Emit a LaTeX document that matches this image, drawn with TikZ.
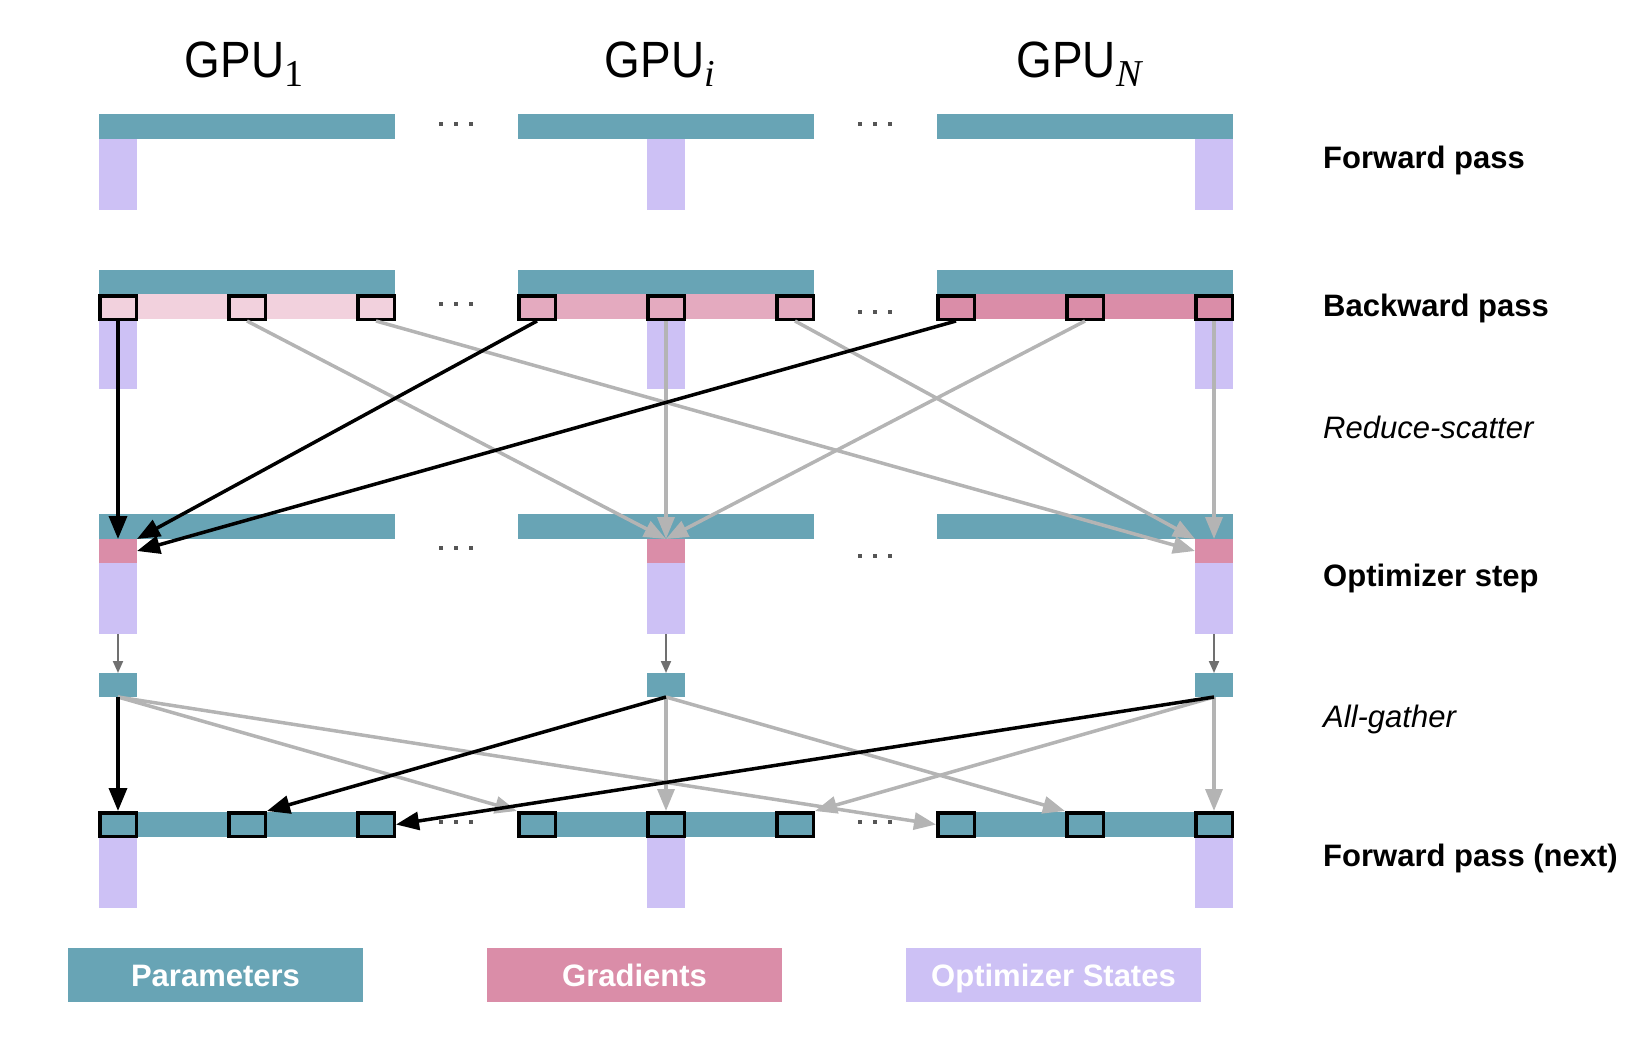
\documentclass[tikz,border=0pt]{standalone}
\usepackage[no-math]{fontspec}
\setmainfont{Liberation Sans}
\newfontfamily\gpufont[FakeStretch=0.9]{Liberation Sans}
\newfontfamily\subfont{Liberation Serif}
\newcommand{\gpusub}[1]{\raisebox{-9pt}{\subfont\fontsize{38}{42}\selectfont #1}}
\usetikzlibrary{arrows.meta}
\definecolor{paramc}{HTML}{68A4B5}
\definecolor{gradc}{HTML}{DA8DA8}
\definecolor{gradlight}{HTML}{F2D1DD}
\definecolor{gradmid}{HTML}{E4AABF}
\definecolor{optc}{HTML}{CDC1F5}
\definecolor{grayc}{HTML}{B4B4B4}
\definecolor{dgray}{HTML}{707070}
\definecolor{dotc}{HTML}{555555}
\begin{document}
\begin{tikzpicture}[x=1pt,y=-1pt,
  rect/.style={draw=none,inner sep=0pt,outer sep=0pt,anchor=north west},
  bar/.style={rect,fill=paramc,minimum width=296,minimum height=25},
  col/.style={rect,fill=optc,minimum width=38,minimum height=71},
  gbox/.style={draw=black,line width=3.5pt,inner sep=0pt,minimum width=36.5,minimum height=23.5},
  legendbox/.style={draw=none,inner sep=0pt,outer sep=0pt,minimum width=295,minimum height=54,
     text=white,font=\bfseries\fontsize{31}{36}\selectfont,text height=22pt,text depth=0pt},
  rowlabel/.style={anchor=base west,inner sep=0pt,font=\bfseries\fontsize{31}{36}\selectfont},
  rowlabelit/.style={anchor=base west,inner sep=0pt,font=\itshape\fontsize{31}{36}\selectfont},
  gpulabel/.style={anchor=base,inner sep=0pt,font=\gpufont\fontsize{51}{60}\selectfont},
  blk/.style={draw=black,line width=3.5pt,-{Triangle[length=23pt,width=18pt]}},
  gry/.style={draw=grayc,line width=3.5pt,-{Triangle[length=22pt,width=17pt]}},
  sml/.style={draw=dgray,line width=2pt,-{Triangle[length=12pt,width=10pt]}}
]
\useasboundingbox (0,0) rectangle (1646,1052);

% GPU labels
\node[gpulabel] (gl1) at (244,77) {GPU\gpusub{1}};
\node[gpulabel] (gli) at (660,77) {GPU\gpusub{\itshape i}};
\node[gpulabel] (glN) at (1079,77) {GPU\gpusub{\itshape N}};

% Row 1: forward pass
\node[bar] (a1) at (99,114) {};
\node[bar] (ai) at (518,114) {};
\node[bar] (aN) at (937,114) {};
\node[col] (ao1) at (99,139) {};
\node[col] (aoi) at (647,139) {};
\node[col] (aoN) at (1195,139) {};

% Row 2: backward pass
\node[bar,minimum height=24] (b1) at (99,270) {};
\node[bar,minimum height=24] (bi) at (518,270) {};
\node[bar,minimum height=24] (bN) at (937,270) {};
\node[rect,fill=gradlight,minimum width=296,minimum height=25] (bg1) at (99,294) {};
\node[rect,fill=gradmid,minimum width=296,minimum height=25] (bgi) at (518,294) {};
\node[rect,fill=gradc,minimum width=296,minimum height=25] (bgN) at (937,294) {};
\node[col,minimum height=70] (bo1) at (99,319) {};
\node[col,minimum height=70] (boi) at (647,319) {};
\node[col,minimum height=70] (boN) at (1195,319) {};
\node[gbox,fill=gradlight] (b1L) at (118,307.5) {};
\node[gbox,fill=gradlight] (b1M) at (247,307.5) {};
\node[gbox,fill=gradlight] (b1R) at (376,307.5) {};
\node[gbox,fill=gradmid] (biL) at (537,307.5) {};
\node[gbox,fill=gradmid] (biM) at (666,307.5) {};
\node[gbox,fill=gradmid] (biR) at (795,307.5) {};
\node[gbox,fill=gradc] (bNL) at (956,307.5) {};
\node[gbox,fill=gradc] (bNM) at (1085,307.5) {};
\node[gbox,fill=gradc] (bNR) at (1214,307.5) {};

% Row 3: optimizer step
\node[bar] (c1) at (99,514) {};
\node[bar] (ci) at (518,514) {};
\node[bar] (cN) at (937,514) {};
\node[rect,fill=gradc,minimum width=38,minimum height=24] (g1) at (99,539) {};
\node[rect,fill=gradc,minimum width=38,minimum height=24] (gi) at (647,539) {};
\node[rect,fill=gradc,minimum width=38,minimum height=24] (gN) at (1195,539) {};
\node[col] (co1) at (99,563) {};
\node[col] (coi) at (647,563) {};
\node[col] (coN) at (1195,563) {};
\node[rect,fill=paramc,minimum width=38,minimum height=24] (p1) at (99,673) {};
\node[rect,fill=paramc,minimum width=38,minimum height=24] (pi) at (647,673) {};
\node[rect,fill=paramc,minimum width=38,minimum height=24] (pN) at (1195,673) {};

% Row 4: forward pass (next)
\node[bar] (d1) at (99,812) {};
\node[bar] (di) at (518,812) {};
\node[bar] (dN) at (937,812) {};
\node[col] (do1) at (99,837) {};
\node[col] (doi) at (647,837) {};
\node[col] (doN) at (1195,837) {};
\node[gbox,fill=paramc] (f1L) at (118,824.5) {};
\node[gbox,fill=paramc] (f1M) at (247,824.5) {};
\node[gbox,fill=paramc] (f1R) at (376,824.5) {};
\node[gbox,fill=paramc] (fiL) at (537,824.5) {};
\node[gbox,fill=paramc] (fiM) at (666,824.5) {};
\node[gbox,fill=paramc] (fiR) at (795,824.5) {};
\node[gbox,fill=paramc] (fNL) at (956,824.5) {};
\node[gbox,fill=paramc] (fNM) at (1085,824.5) {};
\node[gbox,fill=paramc] (fNR) at (1214,824.5) {};

% dots
\foreach \x/\y in {441/124,456/124,471/124,860/124,875/124,890/124,
                   441/304,456/304,471/304,860/312,875/312,890/312,
                   441/548,456/548,471/548,860/556,875/556,890/556,
                   441/822,456/822,471/822,860/822,875/822,890/822}
  \fill[dotc] (\x-2.3,\y-2.3) rectangle (\x+2.3,\y+2.3);

% Reduce-scatter
\draw[gry] (b1M.south) -- (gi.north);
\draw[gry] (biM.south) -- (gi.north);
\draw[gry] (bNM.south) -- (gi.north);
\draw[gry] (b1R.south) -- (gN.west);
\draw[gry] (biR.south) -- (gN.north west);
\draw[gry] (bNR.south) -- (gN.north);
\draw[blk] (b1L.south) -- (g1.north);
\draw[blk] (biL.south) -- (g1.north east);
\draw[blk] (bNL.south) -- (g1.east);

% optimizer -> params
\draw[sml] (co1.south) -- (p1.north);
\draw[sml] (coi.south) -- (pi.north);
\draw[sml] (coN.south) -- (pN.north);

% All-gather
\draw[gry] (p1.south) -- (fiL.north west);
\draw[gry] (p1.south) -- (fNL.west);
\draw[gry] (pi.south) -- (fiM.north);
\draw[gry] (pi.south) -- (fNM.north west);
\draw[gry] (pN.south) -- (fiR.north east);
\draw[gry] (pN.south) -- (fNR.north);
\draw[blk] (p1.south) -- (f1L.north);
\draw[blk] (pi.south) -- (f1M.north east);
\draw[blk] (pN.south) -- (f1R.east);

% Row labels
\node[rowlabel] (l1) at (1323,168) {Forward pass};
\node[rowlabel] (l2) at (1323,316) {Backward pass};
\node[rowlabelit] (l3) at (1323,438) {Reduce-scatter};
\node[rowlabel] (l4) at (1323,586) {Optimizer step};
\node[rowlabelit] (l5) at (1323,727) {All-gather};
\node[rowlabel] (l6) at (1323,866) {Forward pass (next)};

% Legend
\node[legendbox,fill=paramc] (lp) at (215.5,975) {Parameters};
\node[legendbox,fill=gradc] (lg) at (634.5,975) {Gradients};
\node[legendbox,fill=optc] (lo) at (1053.5,975) {Optimizer States};
\end{tikzpicture}
\end{document}
